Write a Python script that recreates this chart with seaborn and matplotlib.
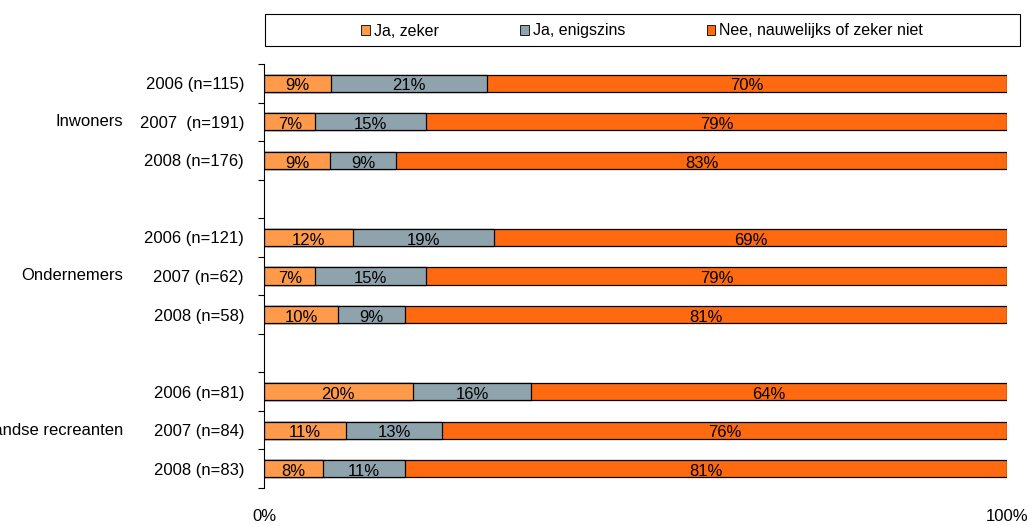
import matplotlib
matplotlib.use("Agg")

import matplotlib.pyplot as plt
from matplotlib.patches import Patch, Rectangle
import numpy as np
import pandas as pd
import seaborn as sns

groups = ["Inwoners", "Ondernemers", "Nederlandse recreanten"]
row_labels = [
    "2006 (n=115)", "2007  (n=191)", "2008 (n=176)",
    "2006 (n=121)", "2007 (n=62)", "2008 (n=58)",
    "2006 (n=81)", "2007 (n=84)", "2008 (n=83)",
]
ja_zeker = [9, 7, 9, 12, 7, 10, 20, 11, 8]
ja_enigszins = [21, 15, 9, 19, 15, 9, 16, 13, 11]
nee = [70, 79, 83, 69, 79, 81, 64, 76, 81]
series_names = ["Ja, zeker", "Ja, enigszins", "Nee, nauwelijks of zeker niet"]
colors = ["#FF9A4A", "#8FA3AD", "#FF6A10"]
x_ticks = [0, 100]
x_tick_labels = ["0%", "100%"]


def build_frame() -> tuple[pd.DataFrame, list[str]]:
    slots = [f"r{i}" for i in range(len(row_labels))]
    df = pd.DataFrame({"slot": slots, "a": ja_zeker, "b": ja_enigszins, "c": nee})
    total = df[["a", "b", "c"]].sum(axis=1)
    # 100% stacked: normalise each row
    for col in ["a", "b", "c"]:
        df[col + "_n"] = df[col] / total * 100
    df["cum1"] = df["a_n"]
    df["cum2"] = df["a_n"] + df["b_n"]
    df["cum3"] = df["cum2"] + df["c_n"]

    order = []
    for g in range(len(groups)):
        order += slots[g * 3:(g + 1) * 3]
        if g < len(groups) - 1:
            order.append(f"gap{g}")
    return df, order


def main() -> None:
    sns.set_theme(style="white")
    plt.rcParams["font.family"] = ["Liberation Sans", "DejaVu Sans"]
    plt.rcParams["text.color"] = "black"
    plt.rcParams["xtick.color"] = "black"
    plt.rcParams["ytick.color"] = "black"

    df, order = build_frame()
    fig = plt.figure(figsize=(10.3, 5.26), dpi=100)
    ax = fig.add_axes([264 / 1030, 1 - 488 / 526, (1007 - 264) / 1030, (488 - 64) / 526])

    for col, color in zip(["cum3", "cum2", "cum1"], colors[::-1]):
        sns.barplot(data=df, y="slot", x=col, order=order, orient="h", color=color,
                    saturation=1, edgecolor="black", linewidth=0.9, width=0.45,
                    errorbar=None, ax=ax)

    pos = {s: i for i, s in enumerate(order)}
    for _, row in df.iterrows():
        y = pos[row["slot"]] + 0.07
        starts = [0, row["cum1"], row["cum2"]]
        widths = [row["a_n"], row["b_n"], row["c_n"]]
        vals = [row["a"], row["b"], row["c"]]
        for s, w, v in zip(starts, widths, vals):
            ax.text(s + w / 2, y, f"{v}%", ha="center", va="center", fontsize=12, color="black")

    ax.set_ylim(len(order) - 0.5, -0.5)
    ax.set_xlim(0, 100)

    # row labels at bar centres, tick marks at slot boundaries
    tick_pos = [pos[f"r{i}"] for i in range(len(row_labels))]
    ax.set_yticks(tick_pos, row_labels, fontsize=12)
    ax.set_yticks(np.arange(-0.5, len(order), 1), minor=True)
    ax.tick_params(axis="y", which="major", length=0, pad=14.4, labelcolor="black")
    ax.tick_params(axis="y", which="minor", length=4, width=0.8, direction="out",
                   color="black", left=True)

    ax.set_xticks(x_ticks, x_tick_labels, fontsize=12)
    ax.tick_params(axis="x", length=0, pad=15, labelcolor="black")
    ax.set_xlabel("")
    ax.set_ylabel("")

    for g, name in enumerate(groups):
        mid = pos[f"r{g * 3 + 1}"]
        ax.text(-0.19, mid, name, ha="right", va="center", fontsize=12, color="black",
                transform=ax.get_yaxis_transform())

    sns.despine(ax=ax, top=True, right=True, bottom=True)
    ax.spines["left"].set_color("black")
    ax.spines["left"].set_linewidth(0.8)

    # legend box across the top
    fig.patches.append(Rectangle((265 / 1030, 1 - 46 / 526), 755 / 1030, 32 / 526,
                                 transform=fig.transFigure, facecolor="white",
                                 edgecolor="black", linewidth=0.8))
    handles = [Patch(facecolor=c, edgecolor="black", linewidth=0.6) for c in colors]
    fig.legend(handles, series_names, loc="center", bbox_to_anchor=(642 / 1030, 1 - 31 / 526),
               ncol=3, frameon=False, fontsize=11.5, handlelength=0.55, handleheight=0.55,
               handletextpad=0.25, columnspacing=5.1, labelcolor="black")

    fig.savefig("out.png", dpi=100)


if __name__ == "__main__":
    main()
